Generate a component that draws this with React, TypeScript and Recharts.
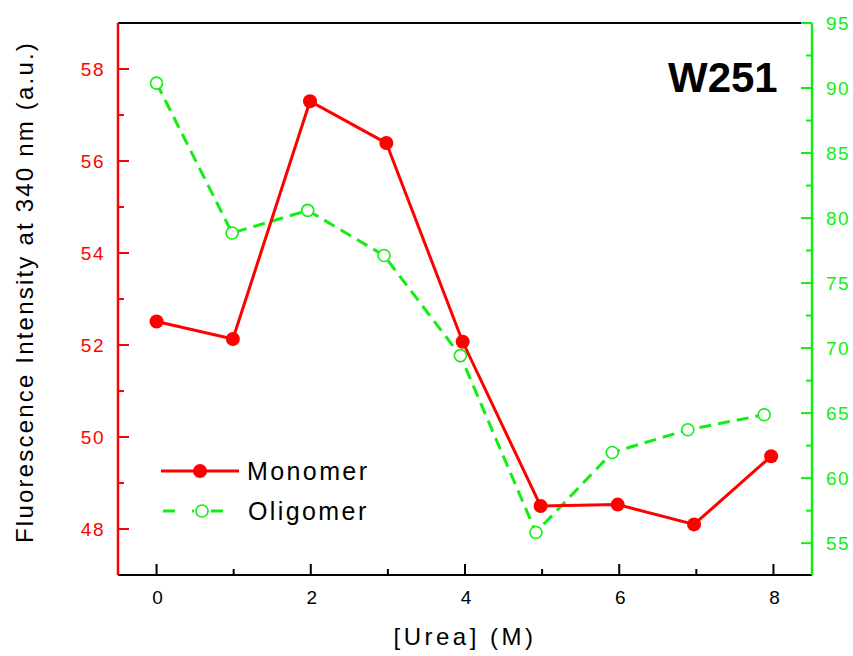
import { LineChart, Line, XAxis, YAxis, Legend } from 'recharts';

const RED = '#ff0000';
const GREEN = '#11ee11';
const FONT = '"Liberation Sans", Arial, sans-serif';

// urea concentration (M) at which each series was measured
const monomerUrea = [0, 0.99, 1.99, 2.98, 3.97, 4.98, 5.98, 6.97, 7.97];
const oligomerUrea = [0, 0.98, 1.96, 2.95, 3.94, 4.92, 5.91, 6.89, 7.88];

// fluorescence intensity at 340 nm (a.u.)
const monomerIntensity = [52.51, 52.13, 57.3, 56.39, 52.07, 48.5, 48.53, 48.1, 49.58];
const oligomerIntensity = [90.38, 78.85, 80.59, 77.12, 69.42, 55.82, 61.97, 63.72, 64.87];

const xTicks = [0, 1, 2, 3, 4, 5, 6, 7, 8];
const leftTicks = [48, 49, 50, 51, 52, 53, 54, 55, 56, 57, 58];
const rightTicks = [55, 57.5, 60, 62.5, 65, 67.5, 70, 72.5, 75, 77.5, 80, 82.5, 85, 87.5, 90, 92.5, 95];

const monomerData = monomerUrea.map((x, i) => ({ x, y: monomerIntensity[i] }));
const oligomerData = oligomerUrea.map((x, i) => ({ x, y: oligomerIntensity[i] }));

const MAJOR = 11;
const MINOR = 6;

const BottomTick = ({ x, y, payload }: any) => {
  const major = payload.value % 2 === 0;
  return (
    <g>
      <line x1={x} x2={x} y1={y} y2={y - (major ? MAJOR : MINOR)} stroke="#000" strokeWidth={2} />
      {major && (
        <text x={x + 1} y={y + 29} textAnchor="middle" fill="#000" fontSize={19} fontFamily={FONT}>
          {payload.value}
        </text>
      )}
    </g>
  );
};

const TopTick = ({ x, y, payload }: any) => {
  const major = payload.value % 2 === 0;
  return <line x1={x} x2={x} y1={y} y2={y + (major ? MAJOR : MINOR)} stroke="#000" strokeWidth={2} />;
};

const LeftTick = ({ x, y, payload }: any) => {
  const major = payload.value % 2 === 0;
  return (
    <g>
      <line x1={x} x2={x + (major ? MAJOR : MINOR)} y1={y} y2={y} stroke={RED} strokeWidth={2} />
      {major && (
        <text x={x - 13} y={y} dy="0.36em" textAnchor="end" fill={RED} fontSize={19} letterSpacing={1.5} fontFamily={FONT}>
          {payload.value}
        </text>
      )}
    </g>
  );
};

const RightTick = ({ x, y, payload }: any) => {
  const major = payload.value % 5 === 0;
  return (
    <g>
      <line x1={x} x2={x - (major ? MAJOR : MINOR)} y1={y} y2={y} stroke={GREEN} strokeWidth={2} />
      {major && (
        <text x={x + 14} y={y} dy="0.36em" textAnchor="start" fill={GREEN} fontSize={19} letterSpacing={1.5} fontFamily={FONT}>
          {payload.value}
        </text>
      )}
    </g>
  );
};

const XTitle = ({ viewBox }: any) => (
  <text
    x={viewBox.x + viewBox.width / 2}
    y={viewBox.y + 70}
    textAnchor="middle"
    fontSize={24}
    letterSpacing={3.5}
    fontFamily={FONT}
    fill="#000"
  >
    [Urea] (M)
  </text>
);

const YTitle = ({ viewBox }: any) => (
  <text
    transform={`translate(${viewBox.x + 33}, 292) rotate(-90)`}
    textAnchor="middle"
    fontSize={24}
    letterSpacing={2.2}
    fontFamily={FONT}
    fill="#000"
  >
    Fluorescence Intensity at 340 nm (a.u.)
  </text>
);

const MonomerDot = ({ cx, cy, index }: any) => <circle key={`m-${index}`} cx={cx} cy={cy} r={7} fill={RED} />;

const OligomerDot = ({ cx, cy, index }: any) => (
  <circle key={`o-${index}`} cx={cx} cy={cy} r={6} fill="#fff" stroke={GREEN} strokeWidth={1.6} />
);

const LegendContent = () => (
  <div style={{ fontFamily: FONT, fontSize: 25, letterSpacing: 2.4, color: '#000' }}>
    <div style={{ display: 'flex', alignItems: 'center', height: 40 }}>
      <svg width={78} height={20}>
        <line x1={0} x2={78} y1={10} y2={10} stroke={RED} strokeWidth={3} />
        <circle cx={39} cy={10} r={7} fill={RED} />
      </svg>
      <span style={{ marginLeft: 8 }}>Monomer</span>
    </div>
    <div style={{ display: 'flex', alignItems: 'center', height: 40 }}>
      <svg width={78} height={20}>
        <line x1={2} x2={78} y1={10} y2={10} stroke={GREEN} strokeWidth={3} strokeDasharray="12 17 2 17" />
        <circle cx={41} cy={10} r={6} fill="#fff" stroke={GREEN} strokeWidth={1.6} />
      </svg>
      <span style={{ marginLeft: 9 }}>Oligomer</span>
    </div>
  </div>
);

export default function App() {
  return (
    <div style={{ position: 'absolute', left: 0, top: 0, width: 853, height: 656, background: '#fff', fontFamily: FONT }}>
      <LineChart width={853} height={656} margin={{ top: 22, right: 0, bottom: 31, left: 0 }}>
        <XAxis
          xAxisId="bottom"
          dataKey="x"
          type="number"
          domain={[-0.5, 8.5]}
          ticks={xTicks}
          interval={0}
          height={50}
          tickSize={0}
          tickMargin={0}
          tick={<BottomTick />}
          axisLine={{ stroke: '#000', strokeWidth: 2 }}
          label={{ content: <XTitle /> }}
        />
        <XAxis
          xAxisId="top"
          orientation="top"
          dataKey="x"
          type="number"
          domain={[-0.5, 8.5]}
          ticks={xTicks}
          interval={0}
          height={1}
          tickSize={0}
          tickMargin={0}
          tick={<TopTick />}
          axisLine={{ stroke: '#000', strokeWidth: 2 }}
        />
        <YAxis
          yAxisId="left"
          type="number"
          domain={[47, 59]}
          ticks={leftTicks}
          interval={0}
          width={118}
          tickSize={0}
          tickMargin={0}
          tick={<LeftTick />}
          axisLine={{ stroke: RED, strokeWidth: 2.5 }}
          label={{ content: <YTitle /> }}
        />
        <YAxis
          yAxisId="right"
          orientation="right"
          type="number"
          domain={[52.55, 95]}
          ticks={rightTicks}
          interval={0}
          width={41}
          tickSize={0}
          tickMargin={0}
          tick={<RightTick />}
          axisLine={{ stroke: GREEN, strokeWidth: 2.5 }}
        />
        <Line
          xAxisId="bottom"
          yAxisId="right"
          data={oligomerData}
          dataKey="y"
          type="linear"
          stroke={GREEN}
          strokeWidth={3}
          strokeDasharray="12 7"
          dot={<OligomerDot />}
          activeDot={false}
          isAnimationActive={false}
        />
        <Line
          xAxisId="bottom"
          yAxisId="left"
          data={monomerData}
          dataKey="y"
          type="linear"
          stroke={RED}
          strokeWidth={3}
          dot={<MonomerDot />}
          activeDot={false}
          isAnimationActive={false}
        />
        <Legend
          layout="horizontal"
          verticalAlign="middle"
          align="center"
          wrapperStyle={{ left: 161, top: 451, width: 240, height: 80 }}
          content={<LegendContent />}
        />
      </LineChart>
      <div
        style={{
          position: 'absolute',
          left: 668,
          top: 57,
          fontSize: 42,
          lineHeight: 1,
          fontWeight: 'bold',
          fontFamily: FONT,
          letterSpacing: 0,
          color: '#000',
        }}
      >
        W251
      </div>
    </div>
  );
}
